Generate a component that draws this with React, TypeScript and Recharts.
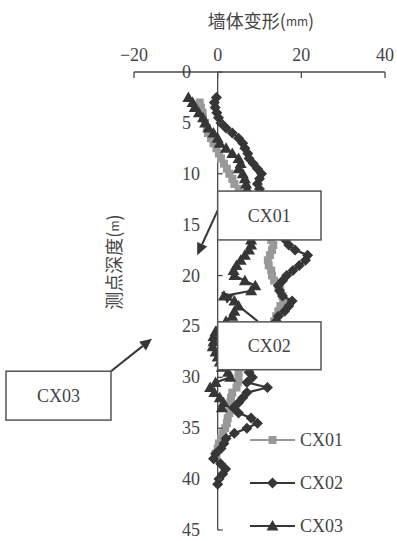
import React from 'react';
import { ScatterChart, Scatter, XAxis, YAxis, ReferenceLine, Legend } from 'recharts';

// depth of each reading (m), shared by the three inclinometers
const depths = [
  2.5, 3, 3.5, 4, 4.5, 5, 5.5, 6, 6.5, 7,
  7.5, 8, 8.5, 9, 9.5, 10, 10.5, 11, 11.5, 12,
  12.5, 13, 13.5, 14, 14.5, 15, 15.5, 16, 16.5, 17,
  17.5, 18, 18.5, 19, 19.5, 20, 20.5, 21, 21.5, 22,
  22.5, 23, 23.5, 24, 24.5, 25, 25.5, 26, 26.5, 27,
  27.5, 28, 28.5, 29, 29.5, 30, 30.5, 31, 31.5, 32,
  32.5, 33, 33.5, 34, 34.5, 35, 35.5, 36, 36.5, 37,
  37.5, 38, 38.5, 39, 39.5, 40, 40.5,
];

// wall deflection (mm)
const cx01 = [
  null, -4.3, -4, -3.6, -3.5, -3, -2.6, -2.3, -1.6, -1,
  -0.3, 0.3, 0.8, 1.5, 2.2, 2.8, 3.5, 4, 5, 6,
  7, 8, 9, 10, 10.5, 11, 11.5, 12, 12.8, 13.3,
  13, 12.5, 12, 12.2, 12.8, 13, 13.5, 14.5, 15, 15.5,
  15.7, 15, 14.5, 14, 13.5, 12.5, 11.5, 10.5, 9.5, 8.5,
  7.5, 6.5, 6, 5.5, 5, 5, 4.8, 4.5, 3.5, 3.2,
  3, 3, 2.8, 2.4, 2.2, 1.8, 1.3, 0.8, 0.3, 0,
  -0.5, -0.3, null, null, null, null, null,
];

const cx02 = [
  -0.3, -0.8, -0.6, -0.2, 0.2, 0.8, 2, 3.5, 5, 6,
  6.5, 7.2, 7.5, 8.5, 9.5, 10.5, 10, 9.5, 10, 10.5,
  11, 11.5, 12, 12.5, 13, 13.5, 14.5, 15.5, 16.2, 17,
  18.5, 21.5, 21, 19.5, 18, 16.5, 15.5, 14.5, 14.8, 15.5,
  17.8, 17, 16, 14.5, 14, 13, 12, 11, 10.5, 10,
  9.5, 9, 8.5, 8, 7.5, 8.3, 7, 11.9, 7, 6,
  5, 3.8, 5, 8, 9.5, 7, 4, 2, 1.5, 0.8,
  -0.5, -1, 0.7, 1.9, 1.2, 0.3, 0,
];

const cx03 = [
  -7, -6, -5.5, -4.5, -3.5, -3, -2.2, -1, 0, 0.5,
  2, 3.5, 5, 5.5, 5, 6, 6.5, 6.8, 7, 7,
  7, 7, 7, 7, 7.2, 7.5, 7.5, 7.8, 8, 8,
  7.5, 6.5, 5.5, 4.5, 3.8, 4, 6.5, 9, 8, 1.5,
  4, 5, 4, 3.5, 2, 0.5, -0.5, -1, -1, -1.2,
  -0.5, 0, 0.5, 1, 2.5, 3, -0.5, -1.8, -0.8, 0.5,
  1.4, 1, null, null, null, null, null, null, null, null,
  null, null, null, null, null, null, null,
];

const seriesNames = ['CX01', 'CX02', 'CX03'];
const xTicks = [-20, 0, 20, 40];
const yTicks = [0, 5, 10, 15, 20, 25, 30, 35, 40, 45];

const W = 397;
const H = 541;
const PLOT = { left: 134, right: 385, top: 72, bottom: 530 };
const X_DOMAIN = [-20, 40];
const Y_DOMAIN = [0, 45];
const AXIS = '#4a4a4a';
const TEXT = '#444';
const GRAY = '#999';
const DARK = '#363636';
const SERIF = '"Liberation Serif", "DejaVu Serif", serif';
const CJK = '"Noto Sans CJK SC", sans-serif';

const px = (v: number) =>
  PLOT.left + ((v - X_DOMAIN[0]) / (X_DOMAIN[1] - X_DOMAIN[0])) * (PLOT.right - PLOT.left);
const py = (d: number) =>
  PLOT.top + ((d - Y_DOMAIN[0]) / (Y_DOMAIN[1] - Y_DOMAIN[0])) * (PLOT.bottom - PLOT.top);

const toPoints = (vals: (number | null)[]) =>
  depths.map((d, i) => ({ x: vals[i], y: d })).filter((p) => p.x !== null);

const Square = ({ cx, cy, fill }: any) => (
  <rect x={cx - 4} y={cy - 4} width={8} height={8} fill={fill} />
);
const Diamond = ({ cx, cy, fill }: any) => (
  <polygon points={`${cx},${cy - 5.5} ${cx + 5.5},${cy} ${cx},${cy + 5.5} ${cx - 5.5},${cy}`} fill={fill} />
);
const Triangle = ({ cx, cy, fill }: any) => (
  <polygon points={`${cx},${cy - 6} ${cx + 6},${cy + 4.5} ${cx - 6},${cy + 4.5}`} fill={fill} />
);

const XTick = ({ x, payload }: any) => (
  <g>
    <line x1={x} y1={PLOT.top} x2={x} y2={PLOT.top + 6} stroke={AXIS} strokeWidth={1.3} />
    <text x={x} y={55} textAnchor="middle" dominantBaseline="central" fontSize={18} fill={TEXT}>
      {String(payload.value).replace('-', '−')}
    </text>
  </g>
);

const YTick = ({ y, payload }: any) => (
  <g>
    <line x1={px(0)} y1={y} x2={px(0) + 5} y2={y} stroke={AXIS} strokeWidth={1.3} />
    <text x={182} y={y} textAnchor="start" dominantBaseline="central" fontSize={18} fill={TEXT}>
      {payload.value}
    </text>
  </g>
);

const markers = [
  { name: seriesNames[0], color: GRAY, Shape: Square },
  { name: seriesNames[1], color: DARK, Shape: Diamond },
  { name: seriesNames[2], color: DARK, Shape: Triangle },
];

const LegendBox = () => (
  <svg width={110} height={112} style={{ display: 'block', fontFamily: SERIF }}>
    {markers.map((m, i) => {
      const y = 12 + i * 43;
      return (
        <g key={m.name}>
          <line x1={2} y1={y} x2={47} y2={y} stroke={m.color} strokeWidth={2} />
          <m.Shape cx={24.5} cy={y} fill={m.color} />
          <text x={52} y={y} dominantBaseline="central" fontSize={18} fill={TEXT}>
            {m.name}
          </text>
        </g>
      );
    })}
  </svg>
);

// call-out boxes and arrows, in data units
const boxes = [
  { label: 'CX01', x1: 0, x2: 24.7, d1: 11.7, d2: 16.5 },
  { label: 'CX02', x1: 0, x2: 24.7, d1: 24.55, d2: 29.25 },
  { label: 'CX03', x1: -50.6, x2: -25.5, d1: 29.4, d2: 34.2 },
];
const arrows = [
  { from: [0, 13.6], to: [-4.9, 18] },
  { from: [9.6, 24.5], to: [0.8, 21.6] },
  { from: [-25.5, 29.4], to: [-15.7, 26.2] },
];

const Arrow = ({ from, to }: { from: number[]; to: number[] }) => {
  const x1 = px(from[0]);
  const y1 = py(from[1]);
  const x2 = px(to[0]);
  const y2 = py(to[1]);
  const len = Math.hypot(x2 - x1, y2 - y1);
  const ux = (x2 - x1) / len;
  const uy = (y2 - y1) / len;
  const bx = x2 - ux * 12;
  const by = y2 - uy * 12;
  const head = `${x2},${y2} ${bx - uy * 5.5},${by + ux * 5.5} ${bx + uy * 5.5},${by - ux * 5.5}`;
  return (
    <g>
      <line x1={x1} y1={y1} x2={bx} y2={by} stroke={DARK} strokeWidth={2} />
      <polygon points={head} fill={DARK} />
    </g>
  );
};

const Annotations = () => (
  <svg width={W} height={H} style={{ position: 'absolute', left: 0, top: 0, pointerEvents: 'none' }}>
    <text x={261} y={20} textAnchor="middle" dominantBaseline="central" fontFamily={CJK} fontSize={18} fill={TEXT}>
      墙体变形(<tspan fontSize={12}>mm</tspan>)
    </text>
    <text
      x={113}
      y={262}
      textAnchor="middle"
      dominantBaseline="central"
      fontFamily={CJK}
      fontSize={18}
      fill={TEXT}
      transform="rotate(-90, 113, 262)"
    >
      测点深度(<tspan fontSize={12}>m</tspan>)
    </text>
    {arrows.map((a, i) => (
      <Arrow key={i} from={a.from} to={a.to} />
    ))}
    {boxes.map((b) => (
      <g key={b.label}>
        <rect
          x={px(b.x1)}
          y={py(b.d1)}
          width={px(b.x2) - px(b.x1)}
          height={py(b.d2) - py(b.d1)}
          fill="#fff"
          stroke="#555"
          strokeWidth={1.5}
        />
        <text
          x={(px(b.x1) + px(b.x2)) / 2}
          y={(py(b.d1) + py(b.d2)) / 2}
          textAnchor="middle"
          dominantBaseline="central"
          fontFamily={SERIF}
          fontSize={18}
          fill={TEXT}
        >
          {b.label}
        </text>
      </g>
    ))}
  </svg>
);

const App: React.FC = () => {
  return (
    <div style={{ position: 'absolute', left: 0, top: 0, width: W, height: H, background: '#fff', fontFamily: SERIF }}>
      <ScatterChart width={W} height={H} margin={{ top: 42, right: W - PLOT.right, bottom: H - PLOT.bottom, left: 0 }}>
        <XAxis
          type="number"
          dataKey="x"
          orientation="top"
          domain={X_DOMAIN}
          ticks={xTicks}
          height={30}
          axisLine={{ stroke: AXIS, strokeWidth: 1.3 }}
          tickLine={false}
          tick={<XTick />}
          allowDataOverflow
        />
        <YAxis
          type="number"
          dataKey="y"
          domain={Y_DOMAIN}
          ticks={yTicks}
          reversed
          width={PLOT.left}
          axisLine={false}
          tickLine={false}
          tick={<YTick />}
          allowDataOverflow
        />
        <ReferenceLine x={0} stroke={AXIS} strokeWidth={1.3} />
        <Scatter
          name={seriesNames[0]}
          data={toPoints(cx01)}
          fill={GRAY}
          line={{ stroke: GRAY, strokeWidth: 2.2 }}
          shape={(p: any) => <Square {...p} fill={GRAY} />}
          isAnimationActive={false}
        />
        <Scatter
          name={seriesNames[1]}
          data={toPoints(cx02)}
          fill={DARK}
          line={{ stroke: DARK, strokeWidth: 2.2 }}
          shape={(p: any) => <Diamond {...p} fill={DARK} />}
          isAnimationActive={false}
        />
        <Scatter
          name={seriesNames[2]}
          data={toPoints(cx03)}
          fill={DARK}
          line={{ stroke: DARK, strokeWidth: 2.2 }}
          shape={(p: any) => <Triangle {...p} fill={DARK} />}
          isAnimationActive={false}
        />
        <Legend
          layout="vertical"
          align="center"
          verticalAlign="middle"
          wrapperStyle={{ left: 248, top: 428, width: 110, height: 112 }}
          content={() => <LegendBox />}
        />
      </ScatterChart>
      <Annotations />
    </div>
  );
};

export default App;
